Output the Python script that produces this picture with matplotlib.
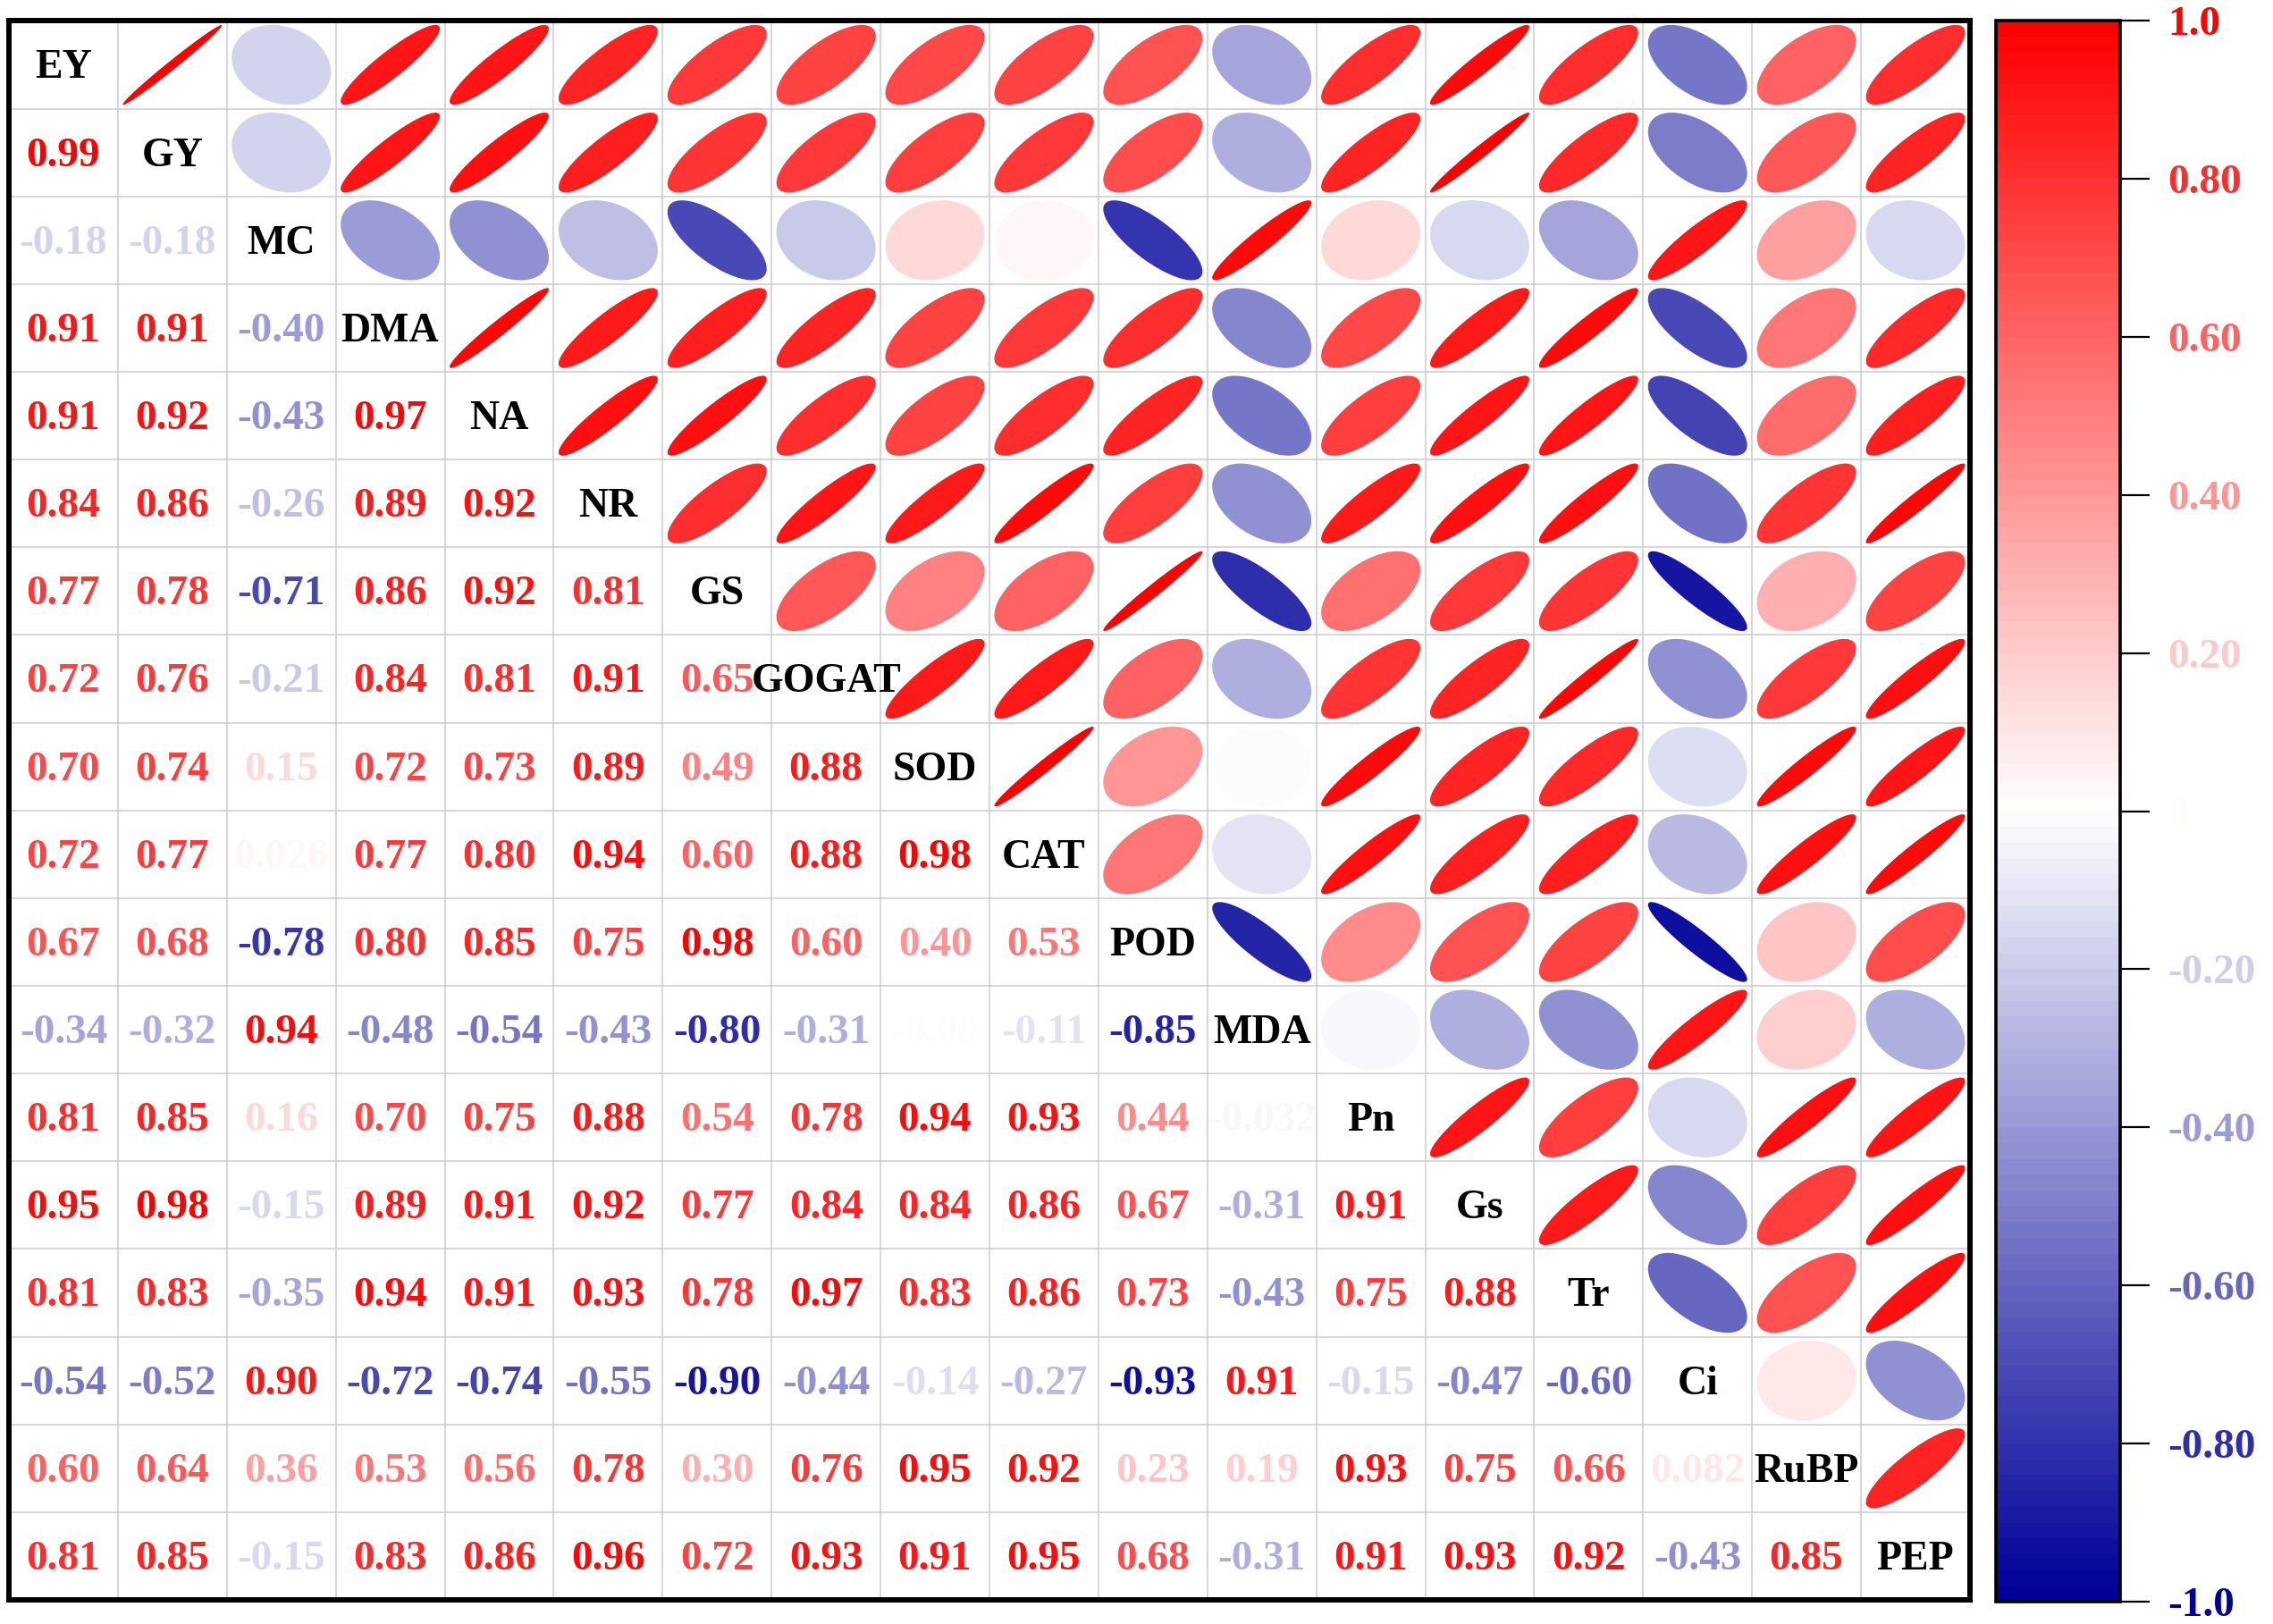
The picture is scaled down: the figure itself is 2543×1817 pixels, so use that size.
import numpy as np
import matplotlib
matplotlib.use('Agg')
import matplotlib.pyplot as plt
from matplotlib.colors import LinearSegmentedColormap, Normalize
from matplotlib.patches import Polygon
from matplotlib.cm import ScalarMappable

plt.rcParams['font.family'] = ['Liberation Serif', 'DejaVu Serif']
plt.rcParams['font.weight'] = 'bold'

labels = ['EY', 'GY', 'MC', 'DMA', 'NA', 'NR', 'GS', 'GOGAT', 'SOD', 'CAT',
          'POD', 'MDA', 'Pn', 'Gs', 'Tr', 'Ci', 'RuBP', 'PEP']

# lower triangle, row by row (row i has i values)
lower = [
    [],
    [0.99],
    [-0.18, -0.18],
    [0.91, 0.91, -0.40],
    [0.91, 0.92, -0.43, 0.97],
    [0.84, 0.86, -0.26, 0.89, 0.92],
    [0.77, 0.78, -0.71, 0.86, 0.92, 0.81],
    [0.72, 0.76, -0.21, 0.84, 0.81, 0.91, 0.65],
    [0.70, 0.74, 0.15, 0.72, 0.73, 0.89, 0.49, 0.88],
    [0.72, 0.77, 0.026, 0.77, 0.80, 0.94, 0.60, 0.88, 0.98],
    [0.67, 0.68, -0.78, 0.80, 0.85, 0.75, 0.98, 0.60, 0.40, 0.53],
    [-0.34, -0.32, 0.94, -0.48, -0.54, -0.43, -0.80, -0.31, -0.004, -0.11, -0.85],
    [0.81, 0.85, 0.16, 0.70, 0.75, 0.88, 0.54, 0.78, 0.94, 0.93, 0.44, -0.032],
    [0.95, 0.98, -0.15, 0.89, 0.91, 0.92, 0.77, 0.84, 0.84, 0.86, 0.67, -0.31, 0.91],
    [0.81, 0.83, -0.35, 0.94, 0.91, 0.93, 0.78, 0.97, 0.83, 0.86, 0.73, -0.43, 0.75, 0.88],
    [-0.54, -0.52, 0.90, -0.72, -0.74, -0.55, -0.90, -0.44, -0.14, -0.27, -0.93, 0.91,
     -0.15, -0.47, -0.60],
    [0.60, 0.64, 0.36, 0.53, 0.56, 0.78, 0.30, 0.76, 0.95, 0.92, 0.23, 0.19, 0.93, 0.75,
     0.66, 0.082],
    [0.81, 0.85, -0.15, 0.83, 0.86, 0.96, 0.72, 0.93, 0.91, 0.95, 0.68, -0.31, 0.91, 0.93,
     0.92, -0.43, 0.85],
]

cbar_ticks = [-1.0, -0.8, -0.6, -0.4, -0.2, 0.0, 0.2, 0.4, 0.6, 0.8, 1.0]
cbar_labels = ['-1.0', '-0.80', '-0.60', '-0.40', '-0.20', '0', '0.20', '0.40', '0.60',
               '0.80', '1.0']

n = len(labels)
corr = np.eye(n)
for i in range(n):
    for j in range(i):
        corr[i, j] = lower[i][j]
        corr[j, i] = lower[i][j]

cmap = LinearSegmentedColormap.from_list('bwr2', ['#000099', '#FFFFFF', '#FF0000'], N=100)
norm = Normalize(-1, 1)


def fmt(v):
    s = '%.2f' % v
    if abs(v) < 0.1 and abs(v) >= 0.01:
        s = ('%.3f' % v)
    return s


fig = plt.figure(figsize=(25.43, 18.17), dpi=100)
ax = fig.add_axes([0.00393, 0.01486, 0.86274, 0.97221])
ax.set_xlim(0, n)
ax.set_ylim(n, 0)
ax.set_xticks([])
ax.set_yticks([])
for s in ax.spines.values():
    s.set_linewidth(4.3)
    s.set_zorder(10)

for k in range(1, n):
    ax.axhline(k, color='#CCCCCC', lw=1.1, zorder=1)
    ax.axvline(k, color='#CCCCCC', lw=1.1, zorder=1)

t = np.linspace(0, 2*np.pi, 200)
for i in range(n):
    for j in range(n):
        r = corr[i, j]
        cx, cy = j + 0.5, i + 0.5
        if i == j:
            ax.text(cx, cy + 0.04, labels[i], ha='center', va='center', fontsize=33,
                    fontweight='bold', color='black', zorder=3)
        elif i > j:
            ax.text(cx, cy + 0.04, fmt(r), ha='center', va='center', fontsize=34,
                    fontweight='bold', color=cmap(norm(r)), zorder=3)
        else:
            d = np.arccos(np.clip(r, -1, 1))
            xs = cx + 0.455*np.cos(t + d/2)
            ys = cy - 0.455*np.cos(t - d/2)
            ax.add_patch(Polygon(np.column_stack([xs, ys]), closed=True,
                                 facecolor=cmap(norm(r)), edgecolor='none', zorder=2))

cax = fig.add_axes([0.8781, 0.01376, 0.05466, 0.97358])
sm = ScalarMappable(norm=norm, cmap=cmap)
cb = fig.colorbar(sm, cax=cax, ticks=cbar_ticks)
cb.outline.set_linewidth(2.6)
cb.ax.set_yticklabels(cbar_labels)
cb.ax.tick_params(length=24, width=1.6, pad=14, labelsize=34, color='black')
for lab, v in zip(cb.ax.get_yticklabels(), cbar_ticks):
    lab.set_color(cmap(norm(v)))
    lab.set_fontweight('bold')

fig.savefig('out.png', dpi=100)
